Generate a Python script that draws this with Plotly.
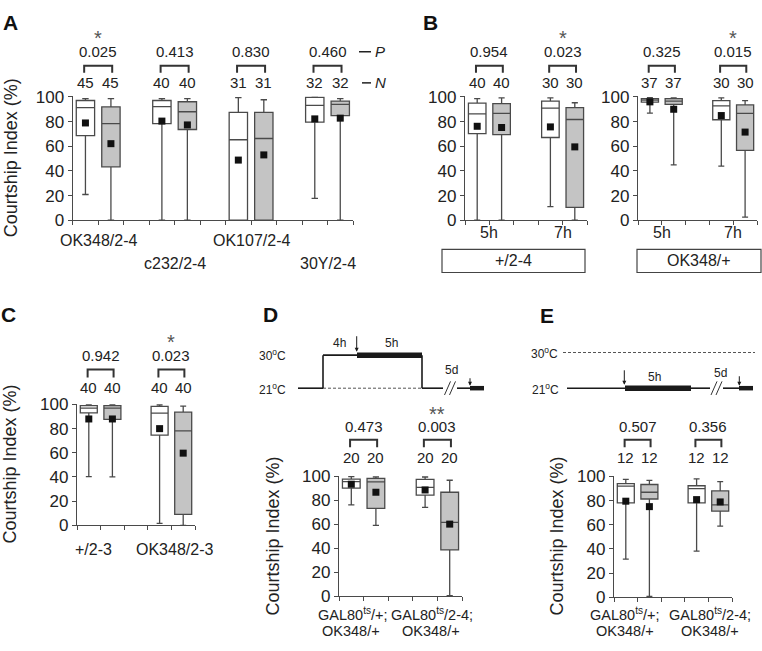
import plotly.graph_objects as go

W, H = 762, 651
FONT = "Liberation Sans, Arial, Helvetica, sans-serif"
TXT = "#222222"
LINE = "#4a4a4a"
GRAY = "#c4c4c4"

# ---------------- data (q1, median, q3, lower whisker, upper whisker, mean) ----------------
# Panel A
A_groups = ["OK348/2-4", "c232/2-4", "OK107/2-4", "30Y/2-4"]
A_N = [45, 40, 31, 32]
A_P = ["0.025", "0.413", "0.830", "0.460"]
A_sig = ["*", "", "", ""]
A_naive_q1 = [68.7, 78.3, 0.0, 79.6]
A_naive_med = [91.4, 92.2, 65.3, 93.2]
A_naive_q3 = [97.1, 97.1, 87.5, 99.7]
A_naive_lo = [20.9, 0.0, 0.0, 17.8]
A_naive_hi = [98.7, 98.7, 99.5, 99.9]
A_naive_mean = [78.9, 80.4, 48.8, 82.2]
A_trained_q1 = [43.3, 73.6, 0.0, 84.9]
A_trained_med = [78.3, 88.0, 66.3, 94.0]
A_trained_q3 = [91.9, 96.1, 87.5, 96.6]
A_trained_lo = [0.0, 0.0, 0.0, 0.0]
A_trained_hi = [98.7, 98.7, 97.7, 98.7]
A_trained_mean = [62.1, 77.3, 53.0, 82.8]

# Panel B, left (+/2-4)
B1_groups = ["5h", "7h"]
B1_N = [40, 30]
B1_P = ["0.954", "0.023"]
B1_sig = ["", "*"]
B1_naive_q1 = [70.2, 67.1]
B1_naive_med = [86.2, 90.9]
B1_naive_q3 = [95.0, 96.6]
B1_naive_lo = [0.0, 11.0]
B1_naive_hi = [98.7, 99.2]
B1_naive_mean = [76.2, 75.7]
B1_trained_q1 = [69.5, 10.4]
B1_trained_med = [86.7, 81.7]
B1_trained_q3 = [94.5, 91.4]
B1_trained_lo = [0.0, 0.0]
B1_trained_hi = [99.2, 95.3]
B1_trained_mean = [75.2, 59.5]

# Panel B, right (OK348/+)
B2_groups = ["5h", "7h"]
B2_N = [37, 30]
B2_P = ["0.325", "0.015"]
B2_sig = ["", "*"]
B2_naive_q1 = [95.8, 81.5]
B2_naive_med = [97.4, 92.7]
B2_naive_q3 = [98.7, 97.0]
B2_naive_lo = [86.9, 43.9]
B2_naive_hi = [99.4, 99.2]
B2_naive_mean = [96.0, 84.9]
B2_trained_q1 = [94.0, 56.7]
B2_trained_med = [96.6, 86.7]
B2_trained_q3 = [98.7, 93.5]
B2_trained_lo = [44.9, 2.6]
B2_trained_hi = [99.2, 97.0]
B2_trained_mean = [90.0, 71.5]

# Panel C
C_groups = ["+/2-3", "OK348/2-3"]
C_N = [40, 40]
C_P = ["0.942", "0.023"]
C_sig = ["", "*"]
C_naive_q1 = [93.0, 74.7]
C_naive_med = [97.0, 92.8]
C_naive_q3 = [99.0, 98.4]
C_naive_lo = [40.3, 1.6]
C_naive_hi = [99.7, 99.7]
C_naive_mean = [88.0, 80.0]
C_trained_q1 = [87.7, 9.1]
C_trained_med = [97.0, 78.1]
C_trained_q3 = [99.0, 93.6]
C_trained_lo = [40.0, 0.0]
C_trained_hi = [99.7, 98.7]
C_trained_mean = [88.0, 59.7]

# Panel D
D_groups = [("GAL80<sup>ts</sup>/+;", "OK348/+"), ("GAL80<sup>ts</sup>/2-4;", "OK348/+")]
D_N = [20, 20]
D_P = ["0.473", "0.003"]
D_sig = ["", "**"]
D_naive_q1 = [90.3, 84.4]
D_naive_med = [95.7, 90.9]
D_naive_q3 = [97.8, 97.6]
D_naive_lo = [76.3, 74.2]
D_naive_hi = [99.9, 99.5]
D_naive_mean = [93.5, 88.7]
D_trained_q1 = [73.4, 38.7]
D_trained_med = [95.4, 61.6]
D_trained_q3 = [98.4, 86.8]
D_trained_lo = [59.1, 0.5]
D_trained_hi = [99.7, 96.8]
D_trained_mean = [86.8, 60.2]

# Panel E
E_groups = [("GAL80<sup>ts</sup>/+;", "OK348/+"), ("GAL80<sup>ts</sup>/2-4;", "OK348/+")]
E_N = [12, 12]
E_P = ["0.507", "0.356"]
E_sig = ["", ""]
E_naive_q1 = [78.1, 78.1]
E_naive_med = [92.0, 89.9]
E_naive_q3 = [94.1, 92.3]
E_naive_lo = [31.5, 38.1]
E_naive_hi = [97.6, 97.9]
E_naive_mean = [79.5, 80.8]
E_trained_q1 = [81.3, 71.2]
E_trained_med = [86.9, 76.5]
E_trained_q3 = [93.3, 88.0]
E_trained_lo = [0.8, 58.9]
E_trained_hi = [96.8, 95.7]
E_trained_mean = [75.0, 78.9]

Y_TICKS = [0, 20, 40, 60, 80, 100]
Y_TITLE = "Courtship Index (%)"


def px_x(px):
    return px / W


def px_y(py):
    return 1 - py / H


panels = [
    dict(xr=(72.7, 353), yr=(90.7, 218.3), n=11, N=A_N, P=A_P, sig=A_sig, lsize=16,
         naive=(A_naive_q1, A_naive_med, A_naive_q3, A_naive_lo, A_naive_hi, A_naive_mean),
         trained=(A_trained_q1, A_trained_med, A_trained_q3, A_trained_lo, A_trained_hi, A_trained_mean),
         ann=(31, 45, 59.3, 66.7, 77),
         labels=[(1, 239.5, A_groups[0]), (4, 263, A_groups[1]), (7, 239.5, A_groups[2]), (10, 263, A_groups[3])]),
    dict(xr=(465, 587), yr=(90.7, 218.3), n=5, N=B1_N, P=B1_P, sig=B1_sig, lsize=16,
         naive=(B1_naive_q1, B1_naive_med, B1_naive_q3, B1_naive_lo, B1_naive_hi, B1_naive_mean),
         trained=(B1_trained_q1, B1_trained_med, B1_trained_q3, B1_trained_lo, B1_trained_hi, B1_trained_mean),
         ann=(31, 45, 59.3, 66.7, 77),
         labels=[(1, 231, B1_groups[0]), (4, 231, B1_groups[1])]),
    dict(xr=(638, 757), yr=(90.7, 218.3), n=5, N=B2_N, P=B2_P, sig=B2_sig, lsize=16,
         naive=(B2_naive_q1, B2_naive_med, B2_naive_q3, B2_naive_lo, B2_naive_hi, B2_naive_mean),
         trained=(B2_trained_q1, B2_trained_med, B2_trained_q3, B2_trained_lo, B2_trained_hi, B2_trained_mean),
         ann=(31, 45, 59.3, 66.7, 77),
         labels=[(1, 231, B2_groups[0]), (4, 231, B2_groups[1])]),
    dict(xr=(77, 195), yr=(407, 532), n=5, N=C_N, P=C_P, sig=C_sig, lsize=16,
         naive=(C_naive_q1, C_naive_med, C_naive_q3, C_naive_lo, C_naive_hi, C_naive_mean),
         trained=(C_trained_q1, C_trained_med, C_trained_q3, C_trained_lo, C_trained_hi, C_trained_mean),
         ann=(343.5, 357, 371.7, 380, 390),
         labels=[(0.72, 556.7, C_groups[0]), (4.15, 556.7, C_groups[1])]),
    dict(xr=(339, 462), yr=(481, 605), n=5, N=D_N, P=D_P, sig=D_sig, lsize=14.5,
         naive=(D_naive_q1, D_naive_med, D_naive_q3, D_naive_lo, D_naive_hi, D_naive_mean),
         trained=(D_trained_q1, D_trained_med, D_trained_q3, D_trained_lo, D_trained_hi, D_trained_mean),
         ann=(417.5, 430, 444, 451.7, 462.7),
         labels=[(0.55, 623.3, D_groups[0][0]), (0.5, 640.7, D_groups[0][1]),
                 (3.78, 623.3, D_groups[1][0]), (3.72, 640.7, D_groups[1][1])]),
    dict(xr=(614, 732), yr=(481, 606), n=5, N=E_N, P=E_P, sig=E_sig, lsize=14.5,
         naive=(E_naive_q1, E_naive_med, E_naive_q3, E_naive_lo, E_naive_hi, E_naive_mean),
         trained=(E_trained_q1, E_trained_med, E_trained_q3, E_trained_lo, E_trained_hi, E_trained_mean),
         ann=(417.5, 430, 444, 451.7, 462.7),
         labels=[(0.47, 623.3, E_groups[0][0]), (0.47, 640.7, E_groups[0][1]),
                 (4.07, 623.3, E_groups[1][0]), (4.07, 640.7, E_groups[1][1])]),
]

fig = go.Figure()
annotations = []
shapes = []
layout_axes = {}


def text(x, y, s, size=15, xref="paper", yref="paper", xanchor="center", yanchor="middle",
         color=TXT, angle=0, bold=False):
    if bold:
        s = "<b>" + s + "</b>"
    annotations.append(dict(x=x, y=y, xref=xref, yref=yref, text=s, showarrow=False,
                            xanchor=xanchor, yanchor=yanchor, textangle=angle,
                            font=dict(family=FONT, size=size, color=color)))


for k, p in enumerate(panels):
    sfx = "" if k == 0 else str(k + 1)
    xa, ya = "x" + sfx, "y" + sfx
    ng = len(p["N"])
    pos_n = [3 * g + 0.5 for g in range(ng)]
    pos_t = [3 * g + 1.5 for g in range(ng)]
    for pos, stats, fill in ((pos_n, p["naive"], "white"), (pos_t, p["trained"], GRAY)):
        q1, med, q3, lo, hi, mean = stats
        fig.add_trace(go.Box(x=pos, q1=q1, median=med, q3=q3, lowerfence=lo, upperfence=hi,
                             width=0.72, whiskerwidth=0.35, fillcolor=fill,
                             line=dict(color=LINE, width=1.3), boxpoints=False,
                             orientation="v", xaxis=xa, yaxis=ya, showlegend=False,
                             hoverinfo="skip"))
    for pos, stats in ((pos_n, p["naive"]), (pos_t, p["trained"])):
        fig.add_trace(go.Scatter(x=pos, y=stats[5], mode="markers",
                                 marker=dict(symbol="square", size=7, color="#111111"),
                                 xaxis=xa, yaxis=ya, showlegend=False, cliponaxis=False,
                                 hoverinfo="skip"))

    layout_axes["xaxis" + sfx] = dict(
        domain=[px_x(p["xr"][0]), px_x(p["xr"][1])], range=[0, p["n"]], anchor=ya,
        tickvals=list(range(p["n"] + 1)), showticklabels=False, ticks="outside", ticklen=4,
        tickwidth=1.3, tickcolor=LINE, showline=True, linecolor=LINE, linewidth=1.3,
        showgrid=False, zeroline=False, fixedrange=True)
    layout_axes["yaxis" + sfx] = dict(
        domain=[px_y(p["yr"][1]), px_y(p["yr"][0])], range=[0, 100.6], anchor=xa,
        tickvals=Y_TICKS, ticks="outside", ticklen=4, tickwidth=1.3, tickcolor=LINE,
        tickfont=dict(family=FONT, size=17, color=TXT), showline=True, linecolor=LINE,
        linewidth=1.3, showgrid=False, zeroline=False, fixedrange=True)

    sy, py, by0, by1, ny = p["ann"]
    for g in range(ng):
        text(pos_n[g], px_y(ny), str(p["N"][g]), 15, xref=xa)
        text(pos_t[g], px_y(ny), str(p["N"][g]), 15, xref=xa)
        text(3 * g + 1, px_y(py), p["P"][g], 15, xref=xa)
        if p["sig"][g]:
            text(3 * g + 1, px_y(sy), p["sig"][g], 20, xref=xa, color="#555555")
        x0, x1 = pos_n[g] - 0.05, pos_t[g] + 0.05
        shapes.append(dict(type="path", xref=xa, yref="paper",
                           path="M {a},{b} L {a},{c} L {d},{c} L {d},{b}".format(
                               a=x0, b=px_y(by1), c=px_y(by0), d=x1),
                           line=dict(color="#333333", width=2)))
    for lx, ly, s in p["labels"]:
        text(lx, px_y(ly), s, p["lsize"], xref=xa)

# y-axis titles
for tx, ty in ((11, 154.5), (10, 469.5), (272.5, 543), (556.5, 543)):
    text(px_x(tx), px_y(ty), Y_TITLE, 18, angle=-90)

# panel letters
for letter, lx, ly in (("A", 10, 15), ("B", 430, 15), ("C", 8.5, 315), ("D", 270, 315), ("E", 547, 316.5)):
    text(px_x(lx), px_y(ly), letter, 21, bold=True, color="#111111")

# P / N key next to panel A
for y0, xs, lab in ((45, 359, "<i>P</i>"), (77, 362, "<i>N</i>")):
    shapes.append(dict(type="line", xref="paper", yref="paper", x0=px_x(xs), x1=px_x(371),
                       y0=px_y(y0), y1=px_y(y0), line=dict(color="#222222", width=1.5)))
    text(px_x(373), px_y(y0), lab, 15, xanchor="left")

# genotype boxes under panel B
for x0, x1, lab in ((442, 585, "+/2-4"), (637, 761, "OK348/+")):
    shapes.append(dict(type="rect", xref="paper", yref="paper", x0=px_x(x0), x1=px_x(x1),
                       y0=px_y(272), y1=px_y(248.3), line=dict(color="#444444", width=1.2),
                       fillcolor="rgba(0,0,0,0)"))
    text(px_x((x0 + x1) / 2), px_y(260), lab, 16)


# ---------------- temperature schematics (D, E) ----------------
def seg(x0, y0, x1, y1, width=1.6, dash=None, color="#1a1a1a"):
    ln = dict(color=color, width=width)
    if dash:
        ln["dash"] = dash
    shapes.append(dict(type="line", xref="paper", yref="paper", x0=px_x(x0), y0=px_y(y0),
                       x1=px_x(x1), y1=px_y(y1), line=ln))


def arrow(x, y_head, length):
    annotations.append(dict(x=px_x(x), y=px_y(y_head), xref="paper", yref="paper", text="",
                            showarrow=True, ax=0, ay=-length, arrowhead=2, arrowsize=0.8,
                            arrowwidth=1, arrowcolor="#1a1a1a"))


def brk(xc, yc):
    for dx in (-2.5, 2.5):
        seg(xc + dx - 3, yc + 7, xc + dx + 3, yc - 7, width=1, color="#333333")


# D
seg(323, 391, 422, 391, width=1, dash="3px,2px", color="#555555")
seg(298, 391, 323, 391)
seg(323, 391, 323, 357)
seg(323, 357, 357, 357)
seg(357, 357, 422, 357, width=5.5)
seg(422, 357, 422, 391)
seg(422, 391, 443, 391)
seg(457, 391, 470, 391)
seg(470, 391, 484, 391, width=4.5)
brk(450, 391)
arrow(356.7, 353.5, 17)
arrow(470, 388.5, 9)
text(px_x(288), px_y(357), "30<sup>o</sup>C", 12, xanchor="right")
text(px_x(288), px_y(392), "21<sup>o</sup>C", 12, xanchor="right")
text(px_x(339.5), px_y(345), "4h", 12)
text(px_x(391.5), px_y(345), "5h", 12)
text(px_x(451), px_y(372), "5d", 12)

# E
seg(563, 354.3, 755, 354.3, width=1, dash="3px,2px", color="#555555")
seg(567, 391, 625, 391)
seg(625, 391, 691, 391, width=5.5)
seg(691, 391, 710, 391)
seg(723, 391, 739, 391)
seg(739, 391, 753, 391, width=4.5)
brk(716.5, 391)
arrow(624.3, 387.5, 16)
arrow(739.3, 388.5, 11)
text(px_x(560), px_y(354.3), "30<sup>o</sup>C", 12, xanchor="right")
text(px_x(561), px_y(391.5), "21<sup>o</sup>C", 12, xanchor="right")
text(px_x(654), px_y(379.3), "5h", 12)
text(px_x(720), px_y(375), "5d", 12)

fig.update_layout(
    width=W, height=H, autosize=False,
    margin=dict(l=0, r=0, t=0, b=0, pad=0),
    paper_bgcolor="white", plot_bgcolor="white",
    boxmode="overlay", showlegend=False,
    font=dict(family=FONT, size=15, color=TXT),
    annotations=annotations, shapes=shapes,
    **layout_axes,
)

fig.write_html("out.html", config={"displayModeBar": False},
               post_script="document.body.style.margin='0px';document.body.style.overflow='hidden';")
